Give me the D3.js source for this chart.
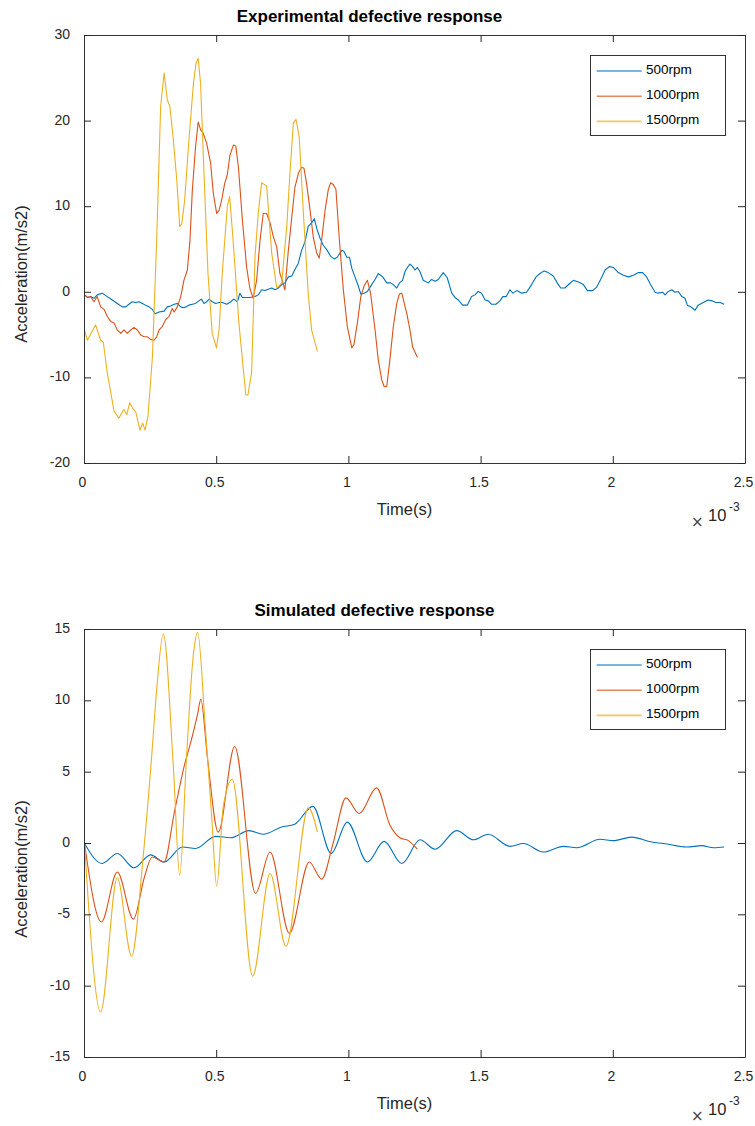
<!DOCTYPE html>
<html>
<head>
<meta charset="utf-8">
<script src="https://cdnjs.cloudflare.com/ajax/libs/d3/7.8.5/d3.min.js"></script>
<style>
  body { margin: 0; background: #fff; }
  svg { display: block; font-family: "Liberation Sans", Arial, Helvetica, sans-serif; }
</style>
</head>
<body>
<svg width="755" height="1126"></svg>
<script>
var seriesNames = ["500rpm", "1000rpm", "1500rpm"];
var seriesColors = ["#0072BD", "#D95319", "#EDB120"];
var xTicks = [0, 0.5, 1, 1.5, 2, 2.5];
var expTicks = [-20, -10, 0, 10, 20, 30];
var simTicks = [-15, -10, -5, 0, 5, 10, 15];

// [time (x1e-3 s), acceleration (m/s2)]
var exp500 = [[0,-0.3],[0.011,-0.6],[0.023,-0.5],[0.036,-0.7],[0.048,-0.3],[0.067,-0.1],[0.086,-0.5],[0.105,-0.9],[0.124,-1.3],[0.143,-1.7],[0.156,-1.7],[0.168,-1.4],[0.181,-1.1],[0.194,-1.2],[0.206,-1.1],[0.219,-1.3],[0.231,-1.5],[0.244,-1.7],[0.257,-2.0],[0.267,-2.5],[0.282,-2.3],[0.301,-2.2],[0.313,-1.7],[0.326,-1.6],[0.339,-1.4],[0.351,-1.3],[0.364,-1.7],[0.376,-1.8],[0.395,-1.5],[0.408,-1.4],[0.420,-1.3],[0.433,-1.0],[0.442,-0.8],[0.452,-1.3],[0.462,-1.1],[0.471,-0.8],[0.483,-1.1],[0.496,-1.3],[0.509,-1.2],[0.521,-1.2],[0.538,-1.4],[0.553,-1.1],[0.565,-0.8],[0.578,-1.1],[0.588,-0.1],[0.597,-0.6],[0.616,-0.6],[0.626,-0.6],[0.645,-0.5],[0.657,-0.3],[0.670,0.3],[0.683,0.2],[0.695,0.35],[0.708,0.5],[0.721,0.3],[0.733,0.5],[0.746,0.9],[0.758,1.1],[0.771,1.8],[0.784,1.9],[0.796,2.7],[0.809,3.4],[0.821,4.9],[0.834,5.9],[0.846,7.7],[0.859,8.1],[0.869,8.6],[0.880,7.3],[0.891,6.3],[0.903,5.5],[0.918,4.9],[0.931,4.2],[0.944,3.9],[0.956,4.1],[0.973,4.9],[0.981,4.8],[0.992,4.1],[1.002,4.1],[1.011,2.8],[1.023,1.8],[1.036,0.7],[1.045,-0.2],[1.057,-0.1],[1.070,0.1],[1.086,0.9],[1.099,1.5],[1.111,2.2],[1.128,1.8],[1.143,1.1],[1.158,1.1],[1.168,0.9],[1.181,0.5],[1.191,1.1],[1.203,1.4],[1.212,2.4],[1.221,2.9],[1.231,3.3],[1.241,3.0],[1.250,2.6],[1.259,2.9],[1.269,2.4],[1.281,1.4],[1.300,1.1],[1.313,1.5],[1.326,1.3],[1.338,1.5],[1.357,2.3],[1.372,1.7],[1.389,-0.1],[1.401,-0.6],[1.414,-0.9],[1.430,-1.5],[1.448,-1.5],[1.464,-0.5],[1.477,-0.3],[1.489,0.1],[1.502,-0.1],[1.515,-0.9],[1.527,-1.0],[1.540,-1.4],[1.556,-1.4],[1.571,-1.0],[1.582,-0.5],[1.595,-0.5],[1.609,0.3],[1.620,-0.1],[1.635,0.2],[1.654,-0.1],[1.672,0.0],[1.691,0.9],[1.708,1.8],[1.723,2.2],[1.738,2.5],[1.754,2.3],[1.773,1.9],[1.788,1.1],[1.801,0.5],[1.817,0.5],[1.834,1.0],[1.849,1.4],[1.868,1.2],[1.887,0.9],[1.902,0.2],[1.922,0.2],[1.937,0.6],[1.952,1.5],[1.969,2.6],[1.985,3.0],[2.000,2.9],[2.019,2.3],[2.038,2.0],[2.057,1.8],[2.076,2.0],[2.095,2.3],[2.111,2.3],[2.126,1.8],[2.141,0.9],[2.158,0.0],[2.170,-0.1],[2.187,0.0],[2.196,-0.3],[2.208,0.1],[2.221,0.3],[2.233,0.0],[2.246,0.1],[2.259,-0.5],[2.271,-0.7],[2.280,-1.5],[2.293,-1.7],[2.309,-2.1],[2.321,-1.5],[2.340,-1.2],[2.359,-0.9],[2.373,-1.0],[2.388,-1.2],[2.404,-1.2],[2.419,-1.4]];

var exp1000 = [[0,-0.3],[0.011,-0.6],[0.023,-0.5],[0.036,-1.1],[0.048,-0.5],[0.061,-1.7],[0.074,-2.0],[0.086,-2.8],[0.099,-3.4],[0.112,-3.6],[0.124,-4.4],[0.137,-4.8],[0.149,-4.4],[0.162,-4.8],[0.175,-4.4],[0.187,-4.1],[0.200,-4.4],[0.213,-5.0],[0.225,-5.2],[0.238,-5.2],[0.250,-5.5],[0.263,-5.6],[0.273,-5.2],[0.282,-4.4],[0.294,-4.0],[0.307,-3.2],[0.320,-2.8],[0.332,-1.9],[0.339,-2.3],[0.351,-1.7],[0.364,-0.5],[0.376,1.4],[0.389,2.6],[0.399,6.1],[0.408,12.0],[0.420,17.0],[0.430,19.9],[0.439,19.0],[0.449,18.6],[0.462,17.4],[0.477,15.1],[0.487,11.6],[0.500,9.2],[0.509,9.6],[0.519,10.8],[0.530,12.7],[0.540,13.7],[0.550,16.0],[0.563,17.2],[0.572,17.1],[0.582,14.7],[0.597,8.5],[0.613,3.0],[0.625,0.5],[0.638,-0.7],[0.651,1.4],[0.664,6.1],[0.676,9.2],[0.689,9.2],[0.702,8.1],[0.714,6.5],[0.727,5.3],[0.739,2.2],[0.748,1.4],[0.758,0.3],[0.771,4.9],[0.784,8.8],[0.796,12.3],[0.809,13.9],[0.821,14.6],[0.830,14.5],[0.840,12.7],[0.853,9.6],[0.865,6.5],[0.878,4.6],[0.888,4.0],[0.897,6.1],[0.910,9.6],[0.922,12.0],[0.931,12.8],[0.941,12.6],[0.951,12.0],[0.964,6.1],[0.979,0.3],[0.994,-4.0],[1.011,-6.5],[1.019,-6.1],[1.032,-3.6],[1.045,-0.5],[1.057,0.7],[1.070,1.4],[1.082,-0.1],[1.099,-4.4],[1.111,-7.9],[1.124,-10.2],[1.133,-11.0],[1.143,-11.0],[1.155,-7.9],[1.168,-4.0],[1.181,-1.3],[1.191,-0.2],[1.200,-0.1],[1.219,-2.5],[1.231,-4.4],[1.241,-6.4],[1.259,-7.6]];

var exp1500 = [[0,-4.4],[0.011,-5.6],[0.042,-3.8],[0.061,-5.6],[0.071,-5.8],[0.086,-9.4],[0.112,-13.9],[0.130,-14.7],[0.149,-13.7],[0.160,-14.3],[0.171,-12.9],[0.181,-13.5],[0.194,-14.0],[0.210,-16.1],[0.220,-15.3],[0.229,-16.1],[0.240,-14.5],[0.257,-7.5],[0.273,6.1],[0.288,21.7],[0.301,25.6],[0.313,22.5],[0.323,21.7],[0.336,17.8],[0.349,13.1],[0.360,7.7],[0.368,8.0],[0.379,10.8],[0.395,17.8],[0.412,24.4],[0.422,26.8],[0.430,27.3],[0.439,24.4],[0.452,13.9],[0.467,2.2],[0.483,-4.8],[0.499,-6.5],[0.509,-4.4],[0.521,2.2],[0.540,10.0],[0.549,11.2],[0.562,6.1],[0.584,-3.6],[0.610,-12.0],[0.618,-12.0],[0.632,-9.4],[0.645,4.2],[0.657,9.2],[0.670,12.8],[0.689,12.4],[0.708,4.6],[0.727,0.5],[0.746,1.1],[0.765,7.7],[0.777,13.9],[0.790,19.8],[0.800,20.2],[0.812,18.2],[0.828,9.2],[0.846,-0.1],[0.859,-4.4],[0.872,-5.9],[0.881,-6.9]];

var sim500 = [[0,0],[0.067,-1.4],[0.124,-0.7],[0.187,-1.7],[0.250,-0.8],[0.301,-1.3],[0.370,-0.25],[0.420,-0.35],[0.496,0.5],[0.553,0.4],[0.622,0.9],[0.676,0.65],[0.745,1.15],[0.795,1.35],[0.864,2.6],[0.933,-0.7],[0.994,1.5],[1.070,-1.3],[1.133,0.15],[1.200,-1.4],[1.269,0.26],[1.326,-0.4],[1.408,0.9],[1.471,0.26],[1.527,0.65],[1.609,-0.2],[1.660,0.0],[1.735,-0.6],[1.811,-0.2],[1.862,-0.3],[1.950,0.3],[2.000,0.2],[2.070,0.45],[2.145,0.1],[2.190,0.0],[2.278,-0.25],[2.334,-0.15],[2.380,-0.3],[2.419,-0.25]];

var sim1000 = [[0,0],[0.064,-5.5],[0.124,-2.0],[0.185,-5.3],[0.226,-2.4],[0.256,-0.95],[0.301,-1.3],[0.340,2.2],[0.378,5.5],[0.402,7.1],[0.427,9.0],[0.440,10.1],[0.465,6.0],[0.506,0.8],[0.568,6.8],[0.647,-3.5],[0.702,-0.6],[0.775,-6.3],[0.850,-1.3],[0.897,-2.5],[0.940,0.0],[0.989,3.2],[1.039,2.1],[1.105,3.9],[1.155,1.3],[1.193,0.4],[1.225,0.2],[1.259,-0.4]];

var sim1500 = [[0,0],[0.061,-11.8],[0.124,-2.4],[0.178,-7.9],[0.222,-0.9],[0.254,6.1],[0.273,10.8],[0.298,14.7],[0.336,5.4],[0.360,-2.2],[0.386,6.1],[0.411,13.1],[0.428,14.8],[0.456,8.4],[0.481,1.9],[0.500,-3.0],[0.525,2.6],[0.559,4.5],[0.636,-9.3],[0.702,-2.1],[0.762,-7.2],[0.847,2.5],[0.881,0.8]];

var panels = [
  {title: "Experimental defective response", titleX: 369.5, top: 35, bottom: 463, ticks: expTicks,
   lines: [exp500, exp1000, exp1500], curve: d3.curveLinear, labelY: 274},
  {title: "Simulated defective response", titleX: 374.5, top: 629, bottom: 1057, ticks: simTicks,
   lines: [sim500, sim1000, sim1500], curve: d3.curveMonotoneX, labelY: 869}
];

var svg = d3.select("svg"),
    left = 84,
    right = 745;

svg.append("rect").attr("width", 755).attr("height", 1126).attr("fill", "#fff");

var x = d3.scaleLinear().domain([0, 2.5]).range([left, right]);
var fmt = function(d) { return String(d); };

function styleAxis(sel) {
  sel.attr("font-family", null)
     .attr("font-size", 14)
     .style("color", "#262626");
  sel.selectAll(".domain").attr("stroke", "#333");
}

panels.forEach(function(p) {
  var y = d3.scaleLinear().domain(d3.extent(p.ticks)).range([p.bottom, p.top]);
  var g = svg.append("g");

  // data lines first, the box goes on top
  var line = d3.line()
      .x(function(d) { return x(d[0]) + 0.5; })
      .y(function(d) { return y(d[1]) + 0.5; })
      .curve(p.curve);

  g.append("g")
    .selectAll("path")
    .data(p.lines)
    .enter().append("path")
    .attr("fill", "none")
    .attr("stroke", function(d, i) { return seriesColors[i]; })
    .attr("stroke-width", 1.1)
    .attr("stroke-linejoin", "round")
    .attr("d", line);

  g.append("g")
      .attr("transform", "translate(0," + p.bottom + ")")
      .call(d3.axisBottom(x).tickValues(xTicks).tickSize(-7).tickSizeOuter(0).tickPadding(14).tickFormat(fmt))
      .call(styleAxis)
      .selectAll("text").attr("dx", "-2");

  g.append("g")
      .attr("transform", "translate(0," + p.top + ")")
      .call(d3.axisTop(x).tickValues(xTicks).tickSize(-7).tickSizeOuter(0).tickFormat(""))
      .call(styleAxis);

  g.append("g")
      .attr("transform", "translate(" + left + ",0)")
      .call(d3.axisLeft(y).tickValues(p.ticks).tickSize(-7).tickSizeOuter(0).tickPadding(14).tickFormat(fmt))
      .call(styleAxis)
      .selectAll("text").attr("dy", "0.25em");

  g.append("g")
      .attr("transform", "translate(" + right + ",0)")
      .call(d3.axisRight(y).tickValues(p.ticks).tickSize(-7).tickSizeOuter(0).tickFormat(""))
      .call(styleAxis);

  g.append("text")
      .attr("x", p.titleX)
      .attr("y", p.top - 13)
      .attr("text-anchor", "middle")
      .attr("font-size", 17)
      .attr("font-weight", "bold")
      .attr("fill", "#000")
      .text(p.title);

  g.append("text")
      .attr("x", 404.5)
      .attr("y", p.bottom + 51.5)
      .attr("text-anchor", "middle")
      .attr("font-size", 16.5)
      .attr("fill", "#262626")
      .text("Time(s)");

  g.append("text")
      .attr("transform", "translate(27," + p.labelY + ") rotate(-90)")
      .attr("text-anchor", "middle")
      .attr("font-size", 16.5)
      .attr("fill", "#262626")
      .text("Acceleration(m/s2)");

  // x10^-3 exponent label
  var ex = g.append("g").attr("fill", "#262626");
  ex.append("text").attr("x", 691).attr("y", p.bottom + 64).attr("font-family", "DejaVu Sans")
      .attr("font-size", 15).attr("fill", "#444").text("\u00d7");
  ex.append("text").attr("x", 708).attr("y", p.bottom + 57.5).attr("font-size", 16.5).text("10");
  ex.append("text").attr("x", 729).attr("y", p.bottom + 47.5).attr("font-size", 12).text("-3");

  // legend
  var lg = g.append("g").attr("transform", "translate(590," + (p.top + 20.5) + ")");
  lg.append("rect")
      .attr("x", 0.5).attr("y", 0)
      .attr("width", 135).attr("height", 80)
      .attr("fill", "#fff")
      .attr("stroke", "#333");

  var row = lg.selectAll("g.row")
      .data(seriesNames)
      .enter().append("g")
      .attr("class", "row")
      .attr("transform", function(d, i) { return "translate(0," + (15.5 + i * 25.2) + ")"; });

  row.append("line")
      .attr("x1", 6.7).attr("x2", 51.7)
      .attr("stroke", function(d, i) { return seriesColors[i]; })
      .attr("stroke-width", 1.6)
      .attr("stroke-opacity", 0.7);

  row.append("text")
      .attr("x", 56)
      .attr("y", 3)
      .attr("font-size", 13.5)
      .attr("fill", "#000")
      .text(function(d) { return d; });
});
</script>
</body>
</html>
